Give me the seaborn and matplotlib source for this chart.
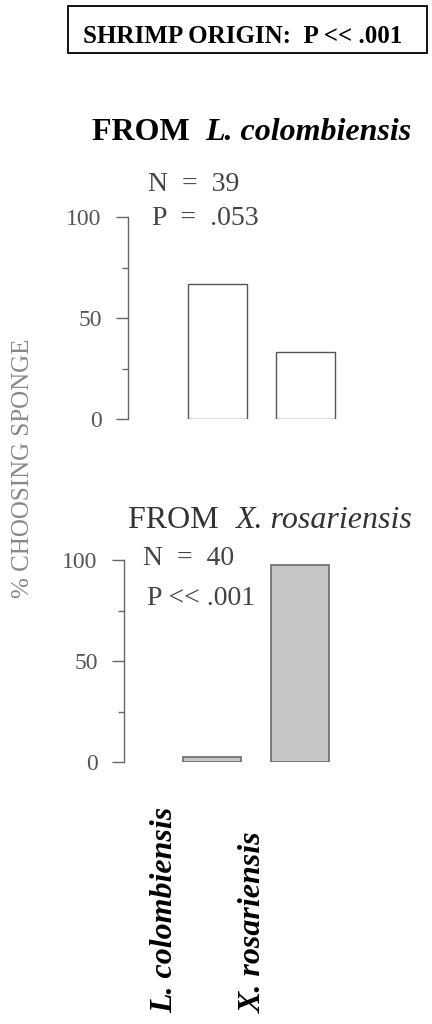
import matplotlib
matplotlib.use("Agg")
import matplotlib.pyplot as plt
import matplotlib.transforms as mtransforms
from matplotlib.patches import Rectangle
import seaborn as sns

# Data
sponges = ["L. colombiensis", "X. rosariensis"]
from_lc = [67, 33]      # % choosing sponge, shrimp from L. colombiensis
from_xr = [2.5, 97.5]   # % choosing sponge, shrimp from X. rosariensis
n_lc, p_lc = 39, ".053"
n_xr, p_xr = 40, "<< .001"
origin_p = "<< .001"

sns.set_theme(style="white")
plt.rcParams["font.family"] = ["Liberation Serif", "DejaVu Serif"]

W, H = 432, 1024
fig = plt.figure(figsize=(W / 100, H / 100), dpi=100)
fig.patch.set_facecolor("white")

def fx(px):
    return px / W

def fy(py):
    return 1 - py / H

axis_col = "#666666"
text_col = "#444444"

# two panels, same y scale (0 -> 100 over 202 px)
ax1 = fig.add_axes([fx(128), fy(419), 2.52 * 88 / W, 202 / H])
ax2 = fig.add_axes([fx(124), fy(762), 2.5 * 88 / W, 202 / H])

sns.barplot(x=sponges, y=from_lc, ax=ax1, color="white", edgecolor="#555555",
            linewidth=1.0, width=0.67, saturation=1)
sns.barplot(x=sponges, y=from_xr, ax=ax2, color="#c6c6c6", edgecolor="#6a6a6a",
            linewidth=1.2, width=0.67, saturation=1)
ax1.set_xlim(-1.02, 1.5)
ax2.set_xlim(-1.0, 1.5)

for ax in (ax1, ax2):
    ax.set_facecolor("white")
    ax.set_ylim(0, 100)
    sns.despine(ax=ax, bottom=True)
    ax.spines["left"].set_color(axis_col)
    ax.spines["left"].set_linewidth(1.0)
    ax.set_yticks([0, 50, 100])
    ax.set_yticks([25, 75], minor=True)
    ax.tick_params(axis="y", which="major", direction="out", length=9, width=1,
                   color=axis_col, labelcolor="#555555", labelsize=17, pad=10, left=True)
    ax.tick_params(axis="y", which="minor", direction="out", length=4, width=1,
                   color=axis_col, left=True)
    ax.set_xticks([])
    ax.set_xlabel("")
    ax.set_ylabel("")

# panel annotations
ax1.text(-0.79, 113, f"N  =  {n_lc}", fontsize=20, color=text_col)
ax1.text(-0.75, 96, f"P  =  {p_lc}", fontsize=20, color=text_col)
ax2.text(-0.78, 97.5, f"N  =  {n_xr}", fontsize=20, color=text_col)
ax2.text(-0.74, 77.7, f"P {p_xr}", fontsize=20, color=text_col)

# panel titles
fig.text(fx(92), fy(140), "FROM  ", fontsize=23, fontweight="bold", color="black")
t1 = fig.text(fx(92), fy(140), "FROM  ", fontsize=23, fontweight="bold", color="none")
fig.canvas.draw()
bb = t1.get_window_extent()
fig.text(bb.x1 / W, fy(140), "L. colombiensis", fontsize=23, fontweight="bold",
         style="italic", color="black")

fig.text(fx(128), fy(528), "FROM  ", fontsize=23, color="#333333")
t2 = fig.text(fx(128), fy(528), "FROM  ", fontsize=23, color="none")
fig.canvas.draw()
bb2 = t2.get_window_extent()
fig.text(bb2.x1 / W, fy(528), "X. rosariensis", fontsize=23, style="italic", color="#333333")

# boxed overall result
fig.patches.append(Rectangle((fx(68), fy(53)), (427 - 68) / W, 47 / H,
                             transform=fig.transFigure, fill=False,
                             edgecolor="black", linewidth=1.3))
fig.text(fx(83), fy(43), f"SHRIMP ORIGIN:  P {origin_p}", fontsize=18,
         fontweight="bold", color="black")

# y label
fig.text(fx(23), fy(468), "% CHOOSING SPONGE", rotation=90, ha="center", va="center",
         fontsize=18, color="#888888")

# sponge names under the lower panel
trans = mtransforms.blended_transform_factory(ax2.transData, fig.transFigure)
offset = mtransforms.ScaledTranslation(-47 / 100, 0, fig.dpi_scale_trans)
for i, name in enumerate(sponges):
    ax2.text(i, fy(1013), name, transform=trans + offset, rotation=90,
             ha="center", va="bottom", fontsize=23, fontweight="bold",
             style="italic", color="black")

fig.savefig("out.png", dpi=100, facecolor="white")
